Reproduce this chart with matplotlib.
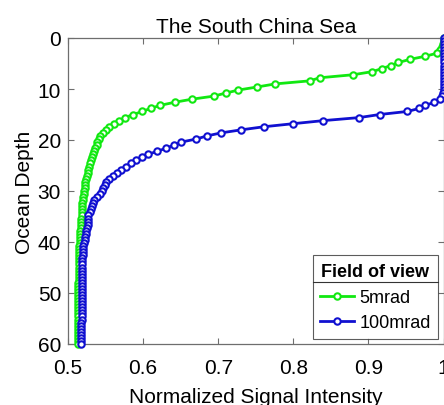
import numpy as np
from matplotlib import pyplot as plt
from matplotlib.lines import Line2D

plt.rcParams['font.family'] = ['Liberation Sans', 'DejaVu Sans']

# profundidad (m), muestreo cada 0.6 m
profundidad = [
    0.0, 0.6, 1.2, 1.8, 2.4, 3.0, 3.6, 4.2, 4.8, 5.4,
    6.0, 6.6, 7.2, 7.8, 8.4, 9.0, 9.6, 10.2, 10.8, 11.4,
    12.0, 12.6, 13.2, 13.8, 14.4, 15.0, 15.6, 16.2, 16.8, 17.4,
    18.0, 18.6, 19.2, 19.8, 20.4, 21.0, 21.6, 22.2, 22.8, 23.4,
    24.0, 24.6, 25.2, 25.8, 26.4, 27.0, 27.6, 28.2, 28.8, 29.4,
    30.0, 30.6, 31.2, 31.8, 32.4, 33.0, 33.6, 34.2, 34.8, 35.4,
    36.0, 36.6, 37.2, 37.8, 38.4, 39.0, 39.6, 40.2, 40.8, 41.4,
    42.0, 42.6, 43.2, 43.8, 44.4, 45.0, 45.6, 46.2, 46.8, 47.4,
    48.0, 48.6, 49.2, 49.8, 50.4, 51.0, 51.6, 52.2, 52.8, 53.4,
    54.0, 54.6, 55.2, 55.8, 56.4, 57.0, 57.6, 58.2, 58.8, 59.4,
    60.0,
]

senal_5mrad = [
    1.000, 1.000, 0.999, 0.998, 0.995, 0.991, 0.975, 0.955, 0.940, 0.930,
    0.918, 0.905, 0.880, 0.835, 0.822, 0.776, 0.752, 0.727, 0.710, 0.694,
    0.665, 0.642, 0.623, 0.610, 0.599, 0.587, 0.576, 0.568, 0.561, 0.555,
    0.550, 0.546, 0.543, 0.541, 0.539, 0.538, 0.536, 0.535, 0.533, 0.532,
    0.530, 0.529, 0.528, 0.527, 0.526, 0.525, 0.524, 0.523, 0.522, 0.522,
    0.521, 0.521, 0.520, 0.520, 0.519, 0.519, 0.519, 0.518, 0.518, 0.517,
    0.517, 0.517, 0.517, 0.516, 0.516, 0.516, 0.516, 0.516, 0.515, 0.515,
    0.515, 0.515, 0.515, 0.515, 0.514, 0.514, 0.514, 0.514, 0.514, 0.514,
    0.513, 0.513, 0.513, 0.513, 0.513, 0.513, 0.513, 0.513, 0.513, 0.513,
    0.513, 0.513, 0.513, 0.513, 0.513, 0.513, 0.513, 0.513, 0.513, 0.513,
    0.513,
]

senal_100mrad = [
    1.000, 1.000, 1.000, 1.000, 1.000, 1.000, 1.000, 1.000, 1.000, 1.000,
    1.000, 1.000, 1.000, 1.000, 1.000, 1.000, 1.000, 1.000, 0.999, 0.998,
    0.996, 0.988, 0.976, 0.968, 0.952, 0.915, 0.888, 0.840, 0.800, 0.761,
    0.731, 0.704, 0.685, 0.671, 0.651, 0.641, 0.631, 0.619, 0.607, 0.599,
    0.591, 0.584, 0.577, 0.571, 0.565, 0.560, 0.555, 0.551, 0.549, 0.547,
    0.545, 0.543, 0.539, 0.534, 0.533, 0.532, 0.530, 0.529, 0.527, 0.527,
    0.526, 0.526, 0.525, 0.524, 0.524, 0.523, 0.522, 0.521, 0.520, 0.520,
    0.520, 0.520, 0.519, 0.519, 0.519, 0.519, 0.519, 0.519, 0.519, 0.519,
    0.519, 0.518, 0.518, 0.518, 0.518, 0.518, 0.518, 0.518, 0.518, 0.518,
    0.518, 0.518, 0.518, 0.517, 0.517, 0.517, 0.517, 0.517, 0.517, 0.517,
    0.517,
]

etiquetas = ['5mrad', '100mrad']
colores = ['#11e811', '#1010d0']

fig = plt.figure(figsize=(4.44, 4.06), dpi=100)
ax = fig.add_axes([68 / 444, 61 / 406, 375.5 / 444, 306 / 406])

for senal, etiqueta, color in zip([senal_5mrad, senal_100mrad], etiquetas, colores):
    ax.plot(senal, profundidad, '-o', color=color, lw=2.0, ms=4.6, mew=1.5,
            mfc='white', label=etiqueta, clip_on=False, zorder=3)

ax.set_xlim(0.5, 1.0)
ax.set_ylim(60, 0)
ax.set_xticks([0.5, 0.6, 0.7, 0.8, 0.9, 1.0])
ax.set_xticklabels(['0.5', '0.6', '0.7', '0.8', '0.9', '1'])
ax.set_yticks([0, 10, 20, 30, 40, 50, 60])

gris = '#6e6e6e'
for s in ax.spines.values():
    s.set_color(gris)
    s.set_linewidth(0.9)
ax.tick_params(direction='in', length=4, width=0.8, color=gris, labelsize=15,
               top=True, right=True)
ax.tick_params(axis='x', pad=10)
ax.tick_params(axis='y', pad=5)

ax.set_title('The South China Sea', fontsize=15, pad=4)
ax.set_xlabel('Normalized Signal Intensity', fontsize=15, labelpad=7)
ax.set_ylabel('Ocean Depth', fontsize=15, labelpad=3)

leg = ax.legend(loc='lower right', title='Field of view', fontsize=13,
                title_fontproperties={'weight': 'bold', 'size': 13},
                frameon=True, fancybox=False, edgecolor='#333333',
                handlelength=1.9, handletextpad=0.3, borderpad=0.4,
                labelspacing=0.45, borderaxespad=0.3)
leg.get_frame().set_linewidth(0.8)
leg._legend_box.sep = 7

# linea separadora bajo el titulo de la leyenda
fig.canvas.draw()
inv = fig.transFigure.inverted()
bb = leg.get_frame().get_window_extent()
tb = leg.get_title().get_window_extent()
y_sep = tb.y0 - 2
(x0, ys), (x1, _) = inv.transform([(bb.x0, y_sep), (bb.x1, y_sep)])
fig.add_artist(Line2D([x0, x1], [ys, ys], color='#333333', lw=0.8))

fig.savefig('out.png', dpi=100)
